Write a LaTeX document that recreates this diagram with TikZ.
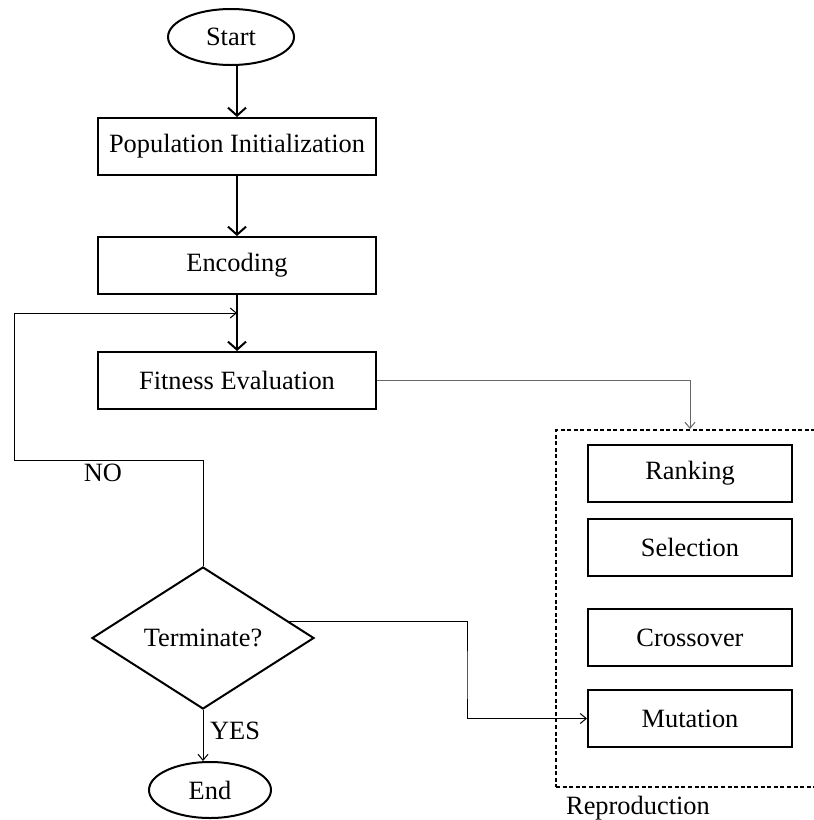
\documentclass[tikz,border=0pt]{standalone}
\usepackage{fontspec}
\setmainfont{Liberation Serif}
\usetikzlibrary{arrows.meta}
\usetikzlibrary{shapes.geometric}
\usetikzlibrary{math}

\begin{document}
\begin{tikzpicture}[x=0.5pt,y=0.5pt,
  font=\fontsize{13.2}{16}\selectfont,
  stepbox/.style={draw,line width=1pt,minimum width=139pt,minimum height=28.5pt,inner sep=0pt},
  opbox/.style={draw,line width=1pt,minimum width=102pt,minimum height=28.5pt,inner sep=0pt},
  terminal/.style={draw,ellipse,line width=1pt,inner sep=0pt,minimum height=28pt},
  flow/.style={line width=1pt,-{Straight Barb[length=4pt,width=9pt]}},
  back/.style={line width=0.5pt,-{Straight Barb[length=3pt,width=5pt]}}]
\tikzmath{
\cx=237;%main column
\rx=690;%reproduction column
}
\useasboundingbox (0,0) rectangle (814,-820);
\clip (0,0) rectangle (814,-820);

%main column
\node[terminal,minimum width=63pt] (start) at (231,-37) {Start};
\node[stepbox] (pop) at (\cx,-146.5) {Population Initialization};
\node[stepbox] (enc) at (\cx,-265.5) {Encoding};
\node[stepbox] (fit) at (\cx,-380.5) {Fitness Evaluation};
\node[draw,diamond,line width=1pt,aspect=1.56,minimum width=111pt,minimum height=71pt,inner sep=0pt] (term) at (203,-638) {Terminate?};
\node[terminal,minimum width=61pt] (end) at (210,-790) {End};

%reproduction
\node[draw,line width=1pt,dash pattern=on 2pt off 1.3pt,minimum width=134pt,minimum height=178.5pt] (repro) at (\rx,-608.5) {};
\node (reprolbl) at (638,-808) {Reproduction};
\node[opbox] (rank) at (\rx,-473.5) {Ranking};
\node[opbox] (sel) at (\rx,-547.5) {Selection};
\node[opbox] (cross) at (\rx,-637.5) {Crossover};
\node[opbox] (mut) at (\rx,-718.5) {Mutation};

%arrows
\draw[flow] (start.south -| pop.north) -- (pop.north);
\draw[flow] (pop) -- (enc);
\draw[flow] (enc) -- (fit);

\coordinate (loopA) at (14,-460);
\coordinate (loopB) at (14,-313);
\draw[back] (term.north) |- (loopA) -- (loopB) -- (loopB -| enc.south);
\node (no) at (103,-473) {NO};

\draw[back,draw=black!60] (fit.east) -| (repro.north);

\coordinate (split) at (467,-680);
\draw[back] (term.11) -| (split) |- (mut.west);
\draw[back] (term.south) -- node[right,pos=0.4] (yes) {YES} (term.south |- end.north);
\end{tikzpicture}
\end{document}
